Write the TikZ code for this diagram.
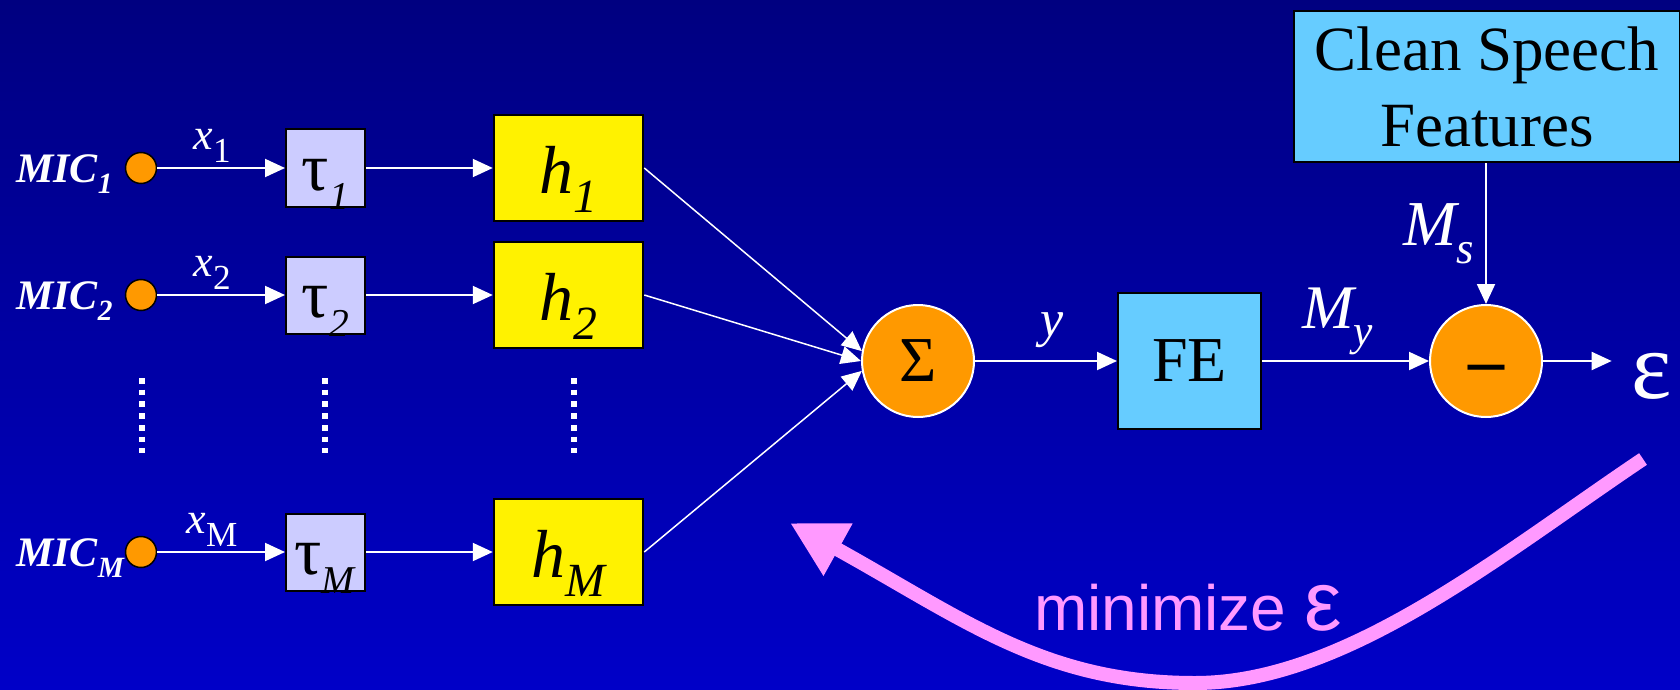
\documentclass[tikz,border=0pt]{standalone}
\usepackage{fontspec}
\setmainfont{Liberation Serif}
\newfontfamily\sansfont{Liberation Sans}
\usetikzlibrary{arrows.meta}
\definecolor{bgtop}{RGB}{0,0,128}
\definecolor{bgbottom}{RGB}{0,0,200}
\definecolor{micorange}{RGB}{255,153,0}
\definecolor{taulilac}{RGB}{204,204,255}
\definecolor{featblue}{RGB}{102,204,255}
\definecolor{hintpink}{RGB}{255,153,255}
\newcommand{\fsz}[1]{\fontsize{#1}{#1}\selectfont}
\newcommand{\subtx}[2][0.7]{\raisebox{-0.28em}{\scalebox{#1}{#2}}}

\begin{document}
\begin{tikzpicture}[x=1pt, y=-1pt,
    sig/.style={draw=white, line width=2pt, -{Triangle[length=20pt,width=18pt]}},
    mic/.style={circle, draw=black, line width=1.5pt, fill=micorange, minimum size=31pt, inner sep=0pt},
    delaybox/.style={draw=black, line width=2pt, fill=taulilac, minimum width=79pt, minimum height=77pt, inner sep=0pt, text height=44pt, text depth=0pt, font=\fsz{68}},
    filtbox/.style={draw=black, line width=2.5pt, fill=yellow, minimum width=149pt, minimum height=106pt, inner sep=0pt, text height=50pt, text depth=0pt, font=\fsz{68}\itshape},
    opcircle/.style={circle, draw=white, line width=2pt, fill=micorange, minimum size=112pt, inner sep=0pt, font=\fsz{64}},
    featbox/.style={draw=black, line width=2pt, fill=featblue, inner sep=0pt, align=center},
    siglabel/.style={text=white, inner sep=2pt}]
    \useasboundingbox (0,0) rectangle (1680,690);
    \fill[top color=bgtop, bottom color=bgbottom] (0,0) rectangle (1680,690);

    \foreach \r/\y in {1/168, 2/295, M/552} {
        \node[text=white, anchor=base west, inner sep=0pt, font=\fsz{42}\bfseries\itshape] (miclbl\r) at (16,\y+14) {MIC\subtx{\r}};
        \node[mic] (mic\r) at (141,\y) {};
        \node[delaybox] (tau\r) at (325.5,\y) {τ\subtx[0.58]{\textit{\r}}};
        \node[filtbox] (h\r) at (568.5,\y) {h\subtx{\r}};
        \draw[sig] (mic\r) -- node[siglabel, above=3pt, xshift=-9pt, font=\fsz{44}\itshape] {x\subtx[0.8]{\textup{\r}}} (tau\r);
        \draw[sig] (tau\r) -- (h\r);
    }
    \foreach \xd in {142, 325, 574}
        \draw[white, line width=5.5pt, dash pattern=on 5.7pt off 6pt] (\xd,378) -- (\xd,453);

    \node[opcircle] (sum) at (918,361) {Σ};
    \draw[sig, line width=1.5pt] (h1.east) -- (sum.170);
    \draw[sig, line width=1.5pt] (h2.east) -- (sum.west);
    \draw[sig, line width=1.5pt] (hM.east) -- (sum.190);

    \node[featbox, minimum width=143pt, minimum height=136pt, font=\fsz{64}] (fe) at (1189.5,361) {FE};
    \node[opcircle, text height=46pt, text depth=0pt, font=\fsz{72}\bfseries] (diff) at (1486,361) {\textendash};
    \node[featbox, minimum width=386pt, minimum height=151pt, font=\fontsize{63}{76}\selectfont] (clean) at (1487,86.5) {Clean Speech\\Features};
    \node[text=white, anchor=base, inner sep=0pt, font=\fsz{96}] (err) at (1652,398) {ε};

    \draw[sig] (sum) -- node[siglabel, above=10pt, xshift=6pt, font=\fsz{52}\itshape] {y} (fe);
    \draw[sig] (fe) -- node[siglabel, above=3pt, xshift=-8pt, font=\fsz{62}\itshape] {M\subtx{y}} (diff);
    \draw[sig] (clean.south -| diff) -- node[siglabel, left=9pt, font=\fsz{64}\itshape] {M\subtx{s}} (diff);
    \draw[sig, shorten >=20pt] (diff) -- (diff -| err.west);

    \coordinate (fbstart) at (1643,459);
    \coordinate (fbend) at (790,523);
    \draw[hintpink, line width=14pt, -{Triangle[length=55pt,width=56pt]}] (fbstart) .. controls (1500,555) and (1345,683) .. (1195,683) .. controls (1045,683) and (965,620) .. (fbend);
    \node[text=hintpink, anchor=base, font=\sansfont\fsz{64}] (minlbl) at (1188,630) {minimize {\fsz{84}ε}};
\end{tikzpicture}
\end{document}
